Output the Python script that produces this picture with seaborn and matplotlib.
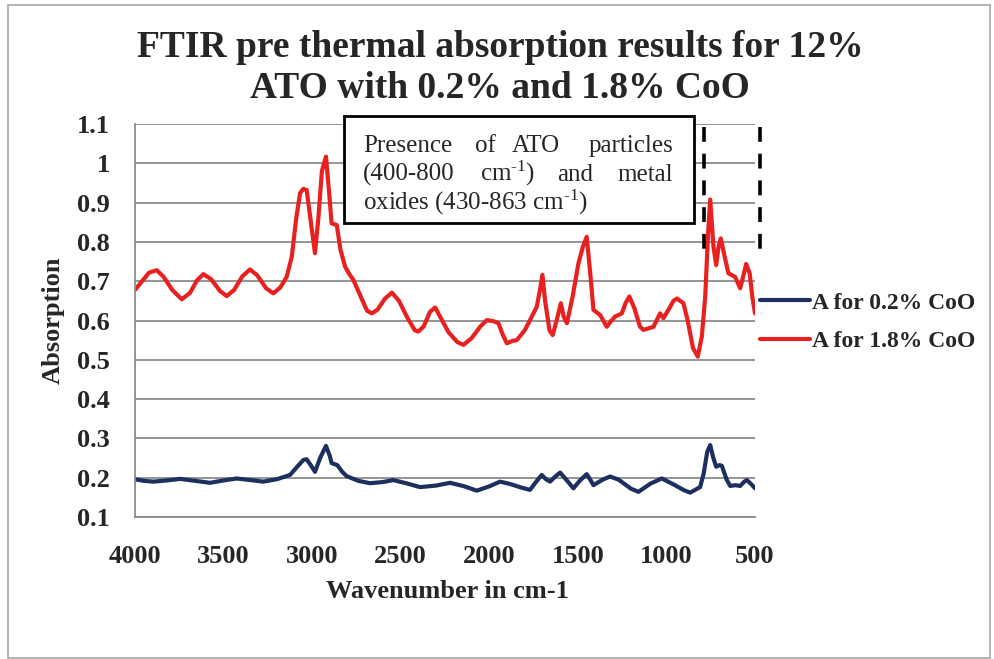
import numpy as np
import pandas as pd
import matplotlib
matplotlib.use("Agg")
import matplotlib.pyplot as plt
import seaborn as sns
from matplotlib.patches import Rectangle
from matplotlib.lines import Line2D

# ---------------- data ----------------
wn_red = [4000, 3960, 3920, 3878, 3840, 3790, 3736, 3690, 3650, 3614, 3570, 3520,
          3482, 3440, 3395, 3351, 3310, 3260, 3219, 3180, 3144, 3115, 3090, 3068,
          3050, 3031, 3010, 2984, 2965, 2945, 2922, 2905, 2890, 2861, 2840, 2814,
          2790, 2767, 2720, 2690, 2663, 2630, 2590, 2550, 2510, 2460, 2420, 2400,
          2370, 2335, 2305, 2278, 2230, 2180, 2146, 2100, 2050, 2014, 1975, 1948,
          1925, 1901, 1870, 1845, 1800, 1770, 1732, 1715, 1700, 1685, 1660, 1642,
          1620, 1596, 1580, 1562, 1530, 1497, 1470, 1450, 1430, 1412, 1374, 1337,
          1310, 1290, 1252, 1230, 1209, 1180, 1150, 1130, 1073, 1036, 1017, 989,
          960, 941, 904, 880, 850, 823, 800, 781, 765, 753, 735, 719,
          705, 693, 670, 650, 612, 584, 565, 550, 530, 515, 500]
abs_red = [0.678, 0.700, 0.722, 0.728, 0.712, 0.678, 0.654, 0.670, 0.702, 0.718, 0.705, 0.675,
           0.662, 0.678, 0.712, 0.730, 0.715, 0.682, 0.669, 0.684, 0.711, 0.762, 0.860, 0.924,
           0.935, 0.932, 0.860, 0.771, 0.860, 0.980, 1.017, 0.930, 0.847, 0.843, 0.780, 0.737,
           0.718, 0.703, 0.655, 0.625, 0.618, 0.628, 0.655, 0.671, 0.650, 0.605, 0.575, 0.572,
           0.585, 0.622, 0.633, 0.610, 0.570, 0.545, 0.538, 0.555, 0.585, 0.601, 0.598, 0.593,
           0.565, 0.542, 0.548, 0.550, 0.575, 0.601, 0.635, 0.675, 0.716, 0.650, 0.575, 0.563,
           0.600, 0.644, 0.610, 0.593, 0.660, 0.745, 0.790, 0.813, 0.720, 0.627, 0.614, 0.584,
           0.600, 0.610, 0.618, 0.645, 0.661, 0.630, 0.585, 0.576, 0.584, 0.618, 0.606, 0.627,
           0.650, 0.656, 0.644, 0.600, 0.530, 0.508, 0.560, 0.661, 0.820, 0.908, 0.790, 0.741,
           0.790, 0.809, 0.760, 0.720, 0.711, 0.682, 0.715, 0.744, 0.720, 0.660, 0.618]

wn_blue = [4000, 3950, 3896, 3820, 3746, 3660, 3577, 3500, 3426, 3350, 3276, 3200,
           3125, 3080, 3050, 3031, 3005, 2984, 2955, 2922, 2900, 2890, 2858, 2830,
           2805, 2740, 2673, 2600, 2542, 2470, 2391, 2300, 2221, 2140, 2071, 2000,
           1939, 1883, 1820, 1770, 1735, 1704, 1680, 1657, 1625, 1600, 1560, 1525,
           1490, 1450, 1430, 1412, 1360, 1318, 1270, 1200, 1158, 1090, 1026, 960,
           900, 866, 810, 790, 770, 753, 735, 719, 700, 687, 660, 640,
           610, 584, 560, 546, 520, 500]
abs_blue = [0.196, 0.192, 0.190, 0.193, 0.197, 0.192, 0.187, 0.193, 0.198, 0.194, 0.190, 0.196,
            0.207, 0.230, 0.245, 0.247, 0.230, 0.215, 0.250, 0.281, 0.255, 0.237, 0.232, 0.215,
            0.204, 0.192, 0.186, 0.189, 0.194, 0.186, 0.176, 0.180, 0.187, 0.178, 0.167, 0.178,
            0.190, 0.184, 0.175, 0.169, 0.190, 0.207, 0.196, 0.190, 0.204, 0.213, 0.192, 0.173,
            0.192, 0.209, 0.195, 0.181, 0.195, 0.203, 0.195, 0.172, 0.164, 0.185, 0.198, 0.183,
            0.168, 0.162, 0.176, 0.210, 0.265, 0.283, 0.250, 0.228, 0.232, 0.230, 0.195, 0.179,
            0.181, 0.179, 0.190, 0.194, 0.183, 0.173]

series_names = ["A for 0.2% CoO", "A for 1.8% CoO"]
x_ticks = [4000, 3500, 3000, 2500, 2000, 1500, 1000, 500]
y_ticks = [0.1, 0.2, 0.3, 0.4, 0.5, 0.6, 0.7, 0.8, 0.9, 1.0, 1.1]
y_tick_labels = ["0.1", "0.2", "0.3", "0.4", "0.5", "0.6", "0.7", "0.8", "0.9", "1", "1.1"]
title_text = "FTIR pre thermal absorption results for 12%\nATO with 0.2% and 1.8% CoO"
x_label = "Wavenumber in cm-1"
y_label = "Absorption"

# ---------------- style ----------------
sns.set_style("white")
plt.rcParams["font.family"] = ["Liberation Serif", "DejaVu Serif"]
plt.rcParams["mathtext.fontset"] = "custom"
plt.rcParams["mathtext.rm"] = "Liberation Serif"
plt.rcParams["mathtext.it"] = "Liberation Serif:italic"
plt.rcParams["mathtext.bf"] = "Liberation Serif:bold"

BLUE = "#1c2f5e"
RED = "#e8201f"
GRID = "#8c8c8c"

W, H = 994, 659
fig = plt.figure(figsize=(W / 100, H / 100), dpi=100)
fig.patch.set_facecolor("white")


def fx(px):
    return px / W


def fy(py):
    return 1 - py / H


ax = fig.add_axes([fx(135), fy(517), (755 - 135) / W, (517 - 124) / H])

df = pd.concat([
    pd.DataFrame({"wn": wn_blue, "abs": abs_blue, "series": series_names[0]}),
    pd.DataFrame({"wn": wn_red, "abs": abs_red, "series": series_names[1]}),
])
sns.lineplot(data=df, x="wn", y="abs", hue="series", hue_order=series_names,
             palette=[BLUE, RED], linewidth=3.0, ax=ax, legend=False,
             estimator=None, solid_joinstyle="round", solid_capstyle="round")

ax.set_xlim(4000, 500)
ax.set_ylim(0.1, 1.1)
ax.set_xticks(x_ticks)
ax.set_xticklabels([str(t) for t in x_ticks], fontsize=19, fontweight="bold")
ax.set_yticks(y_ticks)
ax.set_yticklabels(y_tick_labels, fontsize=19, fontweight="bold")
ax.tick_params(axis="x", length=0, pad=20)
ax.tick_params(axis="y", length=0, pad=18)
ax.grid(axis="y", color=GRID, linewidth=1.3)
ax.grid(axis="x", visible=False)
for s in ["top", "right"]:
    ax.spines[s].set_visible(False)
ax.spines["left"].set_color(GRID)
ax.spines["left"].set_linewidth(1.3)
ax.spines["bottom"].set_color(GRID)
ax.spines["bottom"].set_linewidth(1.3)
ax.set_xlabel("")
ax.set_ylabel("")

# axis labels
fig.text(fx(447), fy(592), x_label, ha="center", va="center", fontsize=19, fontweight="bold")
fig.text(fx(53), fy(320), y_label, ha="center", va="center", rotation=90, fontsize=19,
         fontweight="bold")

# title
fig.text(fx(500), fy(68), title_text, ha="center", va="center", fontsize=27,
         fontweight="bold", linespacing=1.22)

# legend
handles = [Line2D([0], [0], color=BLUE, lw=3.0), Line2D([0], [0], color=RED, lw=3.0)]
leg = ax.legend(handles, series_names, loc="center left",
                bbox_to_anchor=(fx(760), fy(322)), bbox_transform=fig.transFigure,
                frameon=False, borderpad=0, borderaxespad=0, handlelength=2.1,
                handletextpad=0.1, labelspacing=0.7,
                prop={"family": "Liberation Serif", "weight": "bold", "size": 17})

# annotation box
fig.add_artist(Rectangle((fx(344), fy(223)), 350 / W, 107 / H, transform=fig.transFigure,
                         facecolor="white", edgecolor="black", linewidth=2.0, zorder=5))
sup = "$^{\\text{-1}}$"
words = [
    ("Presence", 363, 152, "left"), ("of", 475, 152, "left"), ("ATO", 512, 152, "left"),
    ("particles", 673, 152, "right"),
    ("(400-800", 363, 181, "left"), ("cm" + sup + ")", 480, 181, "left"),
    ("and", 557, 181, "left"), ("metal", 673, 181, "right"),
    ("oxides (430-863 cm" + sup + ")", 363, 210, "left"),
]
for w_, x_, y_, ha_ in words:
    fig.text(fx(x_), fy(y_), w_, ha=ha_, va="baseline", fontsize=18, zorder=6)

# dashed region markers
for xp in (704, 760):
    fig.add_artist(Line2D([fx(xp), fx(xp)], [fy(127), fy(255)], transform=fig.transFigure,
                          color="black", linewidth=2.6, linestyle=(0, (4.1, 3.3)),
                          solid_capstyle="butt", dash_capstyle="butt", zorder=6))

# outer chart border
fig.add_artist(Rectangle((fx(8), fy(658)), (990 - 8) / W, (658 - 5) / H,
                         transform=fig.transFigure, fill=False, edgecolor="#a6a6a6",
                         linewidth=1.2, zorder=0))

fig.savefig("out.png", dpi=100)
